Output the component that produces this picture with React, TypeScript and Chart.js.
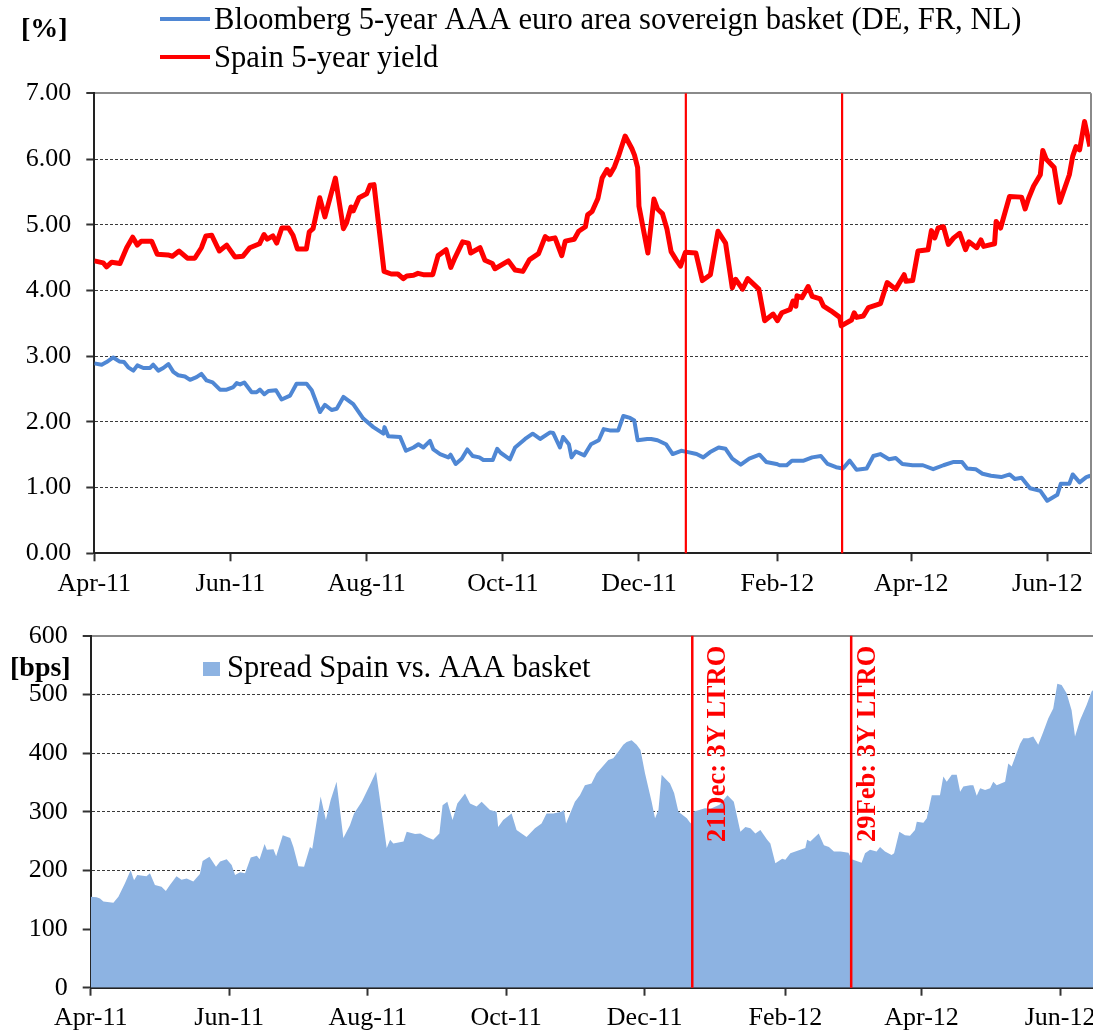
import { useEffect, useRef } from "react";
import { Chart, registerables } from "chart.js";
Chart.register(...registerables);

const FONT = '"Liberation Serif", "Times New Roman", serif';
const RED = "#FF0000";
const BLUE = "#4F87D4";
const AREA = "#8DB3E2";

// x positions are days since 1 Apr 2011
const monthTickDays = [0, 61, 122, 183, 244, 306, 366, 427];
const monthTickLabels = ["Apr-11", "Jun-11", "Aug-11", "Oct-11", "Dec-11", "Feb-12", "Apr-12", "Jun-12"];
const ltroDays = [265, 335];
const ltroLabels = ["21Dec: 3Y LTRO", "29Feb: 3Y LTRO"];
const seriesNames = [
  "Bloomberg 5-year AAA euro area sovereign basket (DE, FR, NL)",
  "Spain 5-year yield",
  "Spread Spain vs. AAA basket",
];

const spainDays = [0, 4, 5.5, 7.8, 11.5, 14.5, 17.2, 19.3, 21, 25.7, 28.2, 33, 35, 38, 41.7, 45, 48, 50, 52.6, 56, 59.3, 63, 66.5, 69.7, 74, 76, 77.5, 80, 81.7, 84, 87, 89, 91, 95, 96.3, 98, 101, 103.3, 108, 111.6, 113, 115, 116, 118.6, 122, 123.5, 125.3, 129.8, 133, 136, 138.4, 140, 143, 145, 147.4, 151.6, 154, 157.6, 159.7, 161.6, 165, 167.6, 168.6, 172.8, 175, 178.3, 179.5, 185.5, 188.5, 192, 195, 199, 202, 203.4, 206.4, 209.4, 211, 215, 217, 220, 221, 223, 225.6, 227.5, 229.7, 231, 233, 235, 237.8, 240.8, 242, 243.4, 244, 248, 250.7, 252.3, 254.5, 256.5, 258.4, 260.6, 262.6, 264.8, 269.5, 272.4, 276, 279.4, 282.8, 285.8, 287.3, 290.4, 292.7, 297.7, 300.3, 304.1, 306, 308, 311.7, 313, 314.3, 314.8, 317, 319.8, 321.6, 325.2, 326.7, 330, 334, 334.6, 339.2, 340.4, 341.5, 344.5, 346.8, 352.2, 355.2, 359, 362.8, 363.6, 366.6, 369, 373.5, 375, 376.5, 378, 380.4, 382.6, 385, 387.7, 390.3, 391.8, 395.3, 397.2, 398.4, 403.3, 404, 406, 410, 415.4, 417, 418.5, 420.8, 423.8, 424.9, 426.4, 430, 432.5, 436.8, 438.3, 439.8, 441.4, 443.6, 446];
const spainYield = [4.45, 4.42, 4.36, 4.43, 4.41, 4.65, 4.81, 4.69, 4.75, 4.75, 4.55, 4.54, 4.52, 4.6, 4.49, 4.49, 4.65, 4.83, 4.84, 4.6, 4.69, 4.51, 4.52, 4.65, 4.71, 4.85, 4.78, 4.83, 4.72, 4.95, 4.95, 4.84, 4.63, 4.63, 4.89, 4.94, 5.41, 5.12, 5.71, 4.94, 5.03, 5.27, 5.21, 5.41, 5.47, 5.6, 5.61, 4.29, 4.25, 4.25, 4.18, 4.22, 4.23, 4.26, 4.24, 4.24, 4.53, 4.62, 4.35, 4.5, 4.74, 4.72, 4.57, 4.65, 4.46, 4.41, 4.33, 4.45, 4.31, 4.29, 4.47, 4.56, 4.82, 4.78, 4.8, 4.53, 4.75, 4.78, 4.9, 4.97, 5.15, 5.2, 5.4, 5.71, 5.84, 5.76, 5.88, 6.06, 6.35, 6.16, 6.06, 5.87, 5.28, 4.57, 5.39, 5.24, 5.17, 4.94, 4.59, 4.47, 4.37, 4.58, 4.57, 4.15, 4.24, 4.9, 4.72, 4.04, 4.17, 4.02, 4.18, 4.02, 3.54, 3.64, 3.54, 3.66, 3.71, 3.84, 3.76, 3.92, 3.89, 4.06, 3.91, 3.87, 3.76, 3.69, 3.59, 3.46, 3.55, 3.66, 3.59, 3.61, 3.74, 3.8, 4.12, 4.02, 4.24, 4.14, 4.15, 4.6, 4.62, 4.91, 4.8, 4.95, 4.97, 4.7, 4.8, 4.87, 4.62, 4.74, 4.65, 4.77, 4.67, 4.71, 5.05, 4.95, 5.43, 5.42, 5.24, 5.4, 5.59, 5.76, 6.13, 6.0, 5.87, 5.34, 5.76, 6.04, 6.19, 6.14, 6.57, 6.19];

const aaaDays = [0, 3.3, 5.5, 8.5, 11.2, 13.3, 15.2, 17.5, 19.3, 22, 25, 26.4, 28.7, 30.9, 33.2, 35.4, 37.6, 40.6, 42.9, 45.8, 48, 50.3, 53, 56.3, 59.3, 62.3, 63.8, 65.3, 67.2, 70.5, 72.7, 74.2, 76.2, 78, 81.4, 83.9, 87.7, 90.6, 95.1, 97.4, 101.1, 103.3, 106.3, 108.6, 111.6, 116, 120.5, 125, 129.5, 130, 131.7, 137, 139.6, 143, 145.2, 147.4, 150.4, 151.9, 154.9, 158.6, 159.6, 161.9, 164.6, 167.1, 169.5, 172.5, 174.3, 178.5, 180.5, 182, 186.2, 188.5, 193, 196.4, 199.7, 204.2, 205.6, 208.6, 210, 212.6, 213.8, 215.7, 219.5, 222.5, 226, 228.2, 230.9, 234.7, 237, 240, 241.9, 243.4, 247.7, 249.5, 252.3, 256.1, 259.1, 262.9, 266, 269.8, 272.8, 275.9, 279.7, 282.8, 285.8, 289.6, 293.4, 298, 301, 305.6, 307, 310.2, 312.5, 317.8, 321.6, 325.5, 328.5, 332.3, 335.4, 338.4, 341.5, 346, 349, 352.1, 356, 359, 362, 366.6, 371.2, 375.8, 380.4, 385, 388.7, 391, 394.8, 397.9, 401.7, 406.3, 410.1, 412.4, 415.4, 419.2, 423.8, 426.9, 431.4, 433, 436.8, 438.3, 441.4, 444.4, 446.2];
const aaaYield = [2.89, 2.87, 2.91, 2.98, 2.92, 2.91, 2.83, 2.78, 2.86, 2.82, 2.82, 2.87, 2.78, 2.82, 2.88, 2.76, 2.71, 2.69, 2.64, 2.68, 2.73, 2.63, 2.6, 2.49, 2.49, 2.53, 2.59, 2.57, 2.6, 2.45, 2.45, 2.49, 2.42, 2.47, 2.48, 2.34, 2.4, 2.58, 2.58, 2.48, 2.15, 2.26, 2.18, 2.2, 2.38, 2.27, 2.05, 1.92, 1.82, 1.92, 1.78, 1.77, 1.56, 1.61, 1.66, 1.61, 1.71, 1.58, 1.51, 1.46, 1.5, 1.36, 1.44, 1.58, 1.48, 1.46, 1.42, 1.42, 1.59, 1.53, 1.43, 1.61, 1.74, 1.82, 1.74, 1.84, 1.83, 1.61, 1.77, 1.66, 1.46, 1.55, 1.49, 1.66, 1.72, 1.89, 1.87, 1.87, 2.09, 2.06, 2.02, 1.72, 1.74, 1.74, 1.72, 1.66, 1.51, 1.56, 1.54, 1.51, 1.46, 1.54, 1.61, 1.59, 1.44, 1.35, 1.44, 1.5, 1.39, 1.36, 1.34, 1.34, 1.41, 1.41, 1.46, 1.48, 1.36, 1.31, 1.29, 1.41, 1.27, 1.29, 1.48, 1.51, 1.43, 1.45, 1.36, 1.34, 1.34, 1.28, 1.34, 1.39, 1.39, 1.29, 1.28, 1.21, 1.18, 1.16, 1.2, 1.13, 1.15, 0.99, 0.95, 0.8, 0.89, 1.06, 1.06, 1.2, 1.08, 1.16, 1.18];

const spreadDays = [0, 2.6, 4.1, 5.6, 10, 12.2, 15.1, 17.6, 19.1, 20.5, 24.6, 26.1, 28.3, 31.2, 33.1, 34.9, 37.8, 40, 42.3, 45.2, 48.1, 49.3, 52.3, 55.2, 57, 59.9, 62.1, 63.6, 65.8, 68, 70.5, 73.2, 74.4, 76.6, 77.6, 80.5, 81.7, 84.6, 87.9, 89.3, 91.5, 94, 96.6, 97.6, 101.3, 103.6, 105.7, 108.3, 111.3, 114.2, 116, 119.4, 123.3, 125.7, 130.4, 131.9, 133.3, 137.8, 139.2, 142.9, 145.2, 148, 150.9, 153.6, 155, 157.1, 159.4, 161.5, 164.9, 167.1, 170, 172.2, 175.9, 178.8, 179.5, 181.7, 185.4, 187.6, 192, 195.7, 198.6, 200.8, 203.8, 207.4, 208.5, 209.4, 213.3, 215.5, 217.7, 220.6, 222.8, 225.5, 228, 230.2, 232.4, 234.6, 236.1, 238.3, 240.5, 242.2, 244.2, 247.1, 248.6, 250.1, 251.5, 253.7, 255.2, 257, 258.9, 262.6, 264.3, 265.5, 270.6, 273, 277, 280.5, 283.3, 286.2, 288.4, 290.6, 292.8, 295, 298, 299.4, 301.6, 304.6, 306, 308.2, 312.6, 314.8, 315.6, 317, 320.7, 323, 325.2, 327.4, 330.3, 333.8, 335.2, 339.6, 341.1, 343.3, 346.2, 347.7, 349.9, 352.8, 353.9, 356.2, 358.7, 360.9, 363.1, 363.9, 366.8, 368.3, 370.5, 374.1, 375.6, 377.1, 379.3, 381.5, 383, 384.4, 387.4, 388.8, 390.3, 391.8, 394, 396.2, 397.6, 399.1, 402.8, 404.2, 405.7, 409.4, 410.8, 413, 415.2, 417.4, 419.6, 421.8, 424, 425.8, 427.7, 429.9, 432.1, 433.6, 435.8, 438.7, 440.9, 441.5, 446];
const spreadBps = [155, 154, 152, 147, 145, 155, 178, 200, 183, 192, 190, 195, 175, 172, 165, 175, 190, 184, 186, 181, 194, 216, 223, 206, 215, 219, 209, 192, 197, 195, 222, 225, 219, 245, 235, 236, 224, 260, 255, 240, 207, 206, 240, 237, 326, 286, 320, 351, 255, 277, 297, 317, 348, 368, 238, 252, 246, 249, 266, 262, 263, 257, 252, 263, 311, 317, 286, 314, 331, 314, 309, 317, 303, 300, 274, 286, 297, 269, 257, 272, 280, 297, 297, 300, 303, 280, 317, 328, 345, 348, 365, 377, 388, 391, 402, 414, 419, 422, 414, 405, 365, 317, 289, 303, 363, 354, 348, 332, 300, 289, 280, 300, 306, 305, 312, 328, 317, 266, 274, 272, 263, 269, 252, 246, 212, 220, 218, 229, 235, 238, 252, 249, 263, 243, 240, 232, 232, 230, 219, 213, 229, 235, 232, 240, 232, 226, 229, 266, 260, 259, 269, 283, 281, 289, 328, 328, 360, 351, 363, 363, 334, 343, 345, 345, 327, 340, 337, 340, 351, 345, 351, 382, 377, 416, 425, 425, 428, 414, 436, 459, 476, 518, 516, 502, 473, 428, 456, 482, 505, 507, 505];

const toXY = (xs: number[], ys: number[]) => xs.map((x, i) => ({ x, y: ys[i] }));

const xScale = (max: number, height: number) => ({
  type: "linear",
  min: 0,
  max,
  afterBuildTicks: (s: any) => {
    s.ticks = monthTickDays.map((v) => ({ value: v }));
  },
  afterFit: (s: any) => {
    s.height = height;
  },
  ticks: {
    autoSkip: false,
    maxRotation: 0,
    padding: 7,
    color: "#000",
    font: { family: FONT, size: 26 },
    callback: (v: any) => {
      const i = monthTickDays.indexOf(Number(v));
      return i >= 0 ? monthTickLabels[i] : "";
    },
  },
  grid: { drawOnChartArea: false, tickLength: 8, tickColor: "#333", tickWidth: 2 },
  border: { color: "#222", width: 2 },
});

const yScale = (max: number, step: number, width: number, decimals: number) => ({
  min: 0,
  max,
  afterFit: (s: any) => {
    s.width = width;
  },
  ticks: {
    stepSize: step,
    padding: 15,
    color: "#000",
    font: { family: FONT, size: 26 },
    callback: (v: any) => Number(v).toFixed(decimals),
  },
  grid: {
    color: (c: any) => (c.tick && c.tick.value === max ? "#8a8a8a" : "#3a3a3a"),
    lineWidth: (c: any) => (c.tick && c.tick.value === max ? 2 : 1),
    tickLength: 8,
    tickColor: "#333",
    tickWidth: 2,
  },
  border: {
    color: "#222",
    width: 2,
    dash: (c: any) => (c.tick && (c.tick.value === max || c.tick.value === 0) ? [] : [3, 2]),
  },
});

const topDecor = {
  id: "topDecor",
  afterDatasetsDraw(chart: any) {
    const { ctx, chartArea: a, scales } = chart;
    ctx.save();
    ctx.strokeStyle = "#8a8a8a";
    ctx.lineWidth = 2;
    ctx.beginPath();
    ctx.moveTo(a.right, a.top);
    ctx.lineTo(a.right, a.bottom);
    ctx.stroke();
    ctx.strokeStyle = RED;
    ctx.lineWidth = 2.2;
    ltroDays.forEach((d) => {
      const px = scales.x.getPixelForValue(d);
      ctx.beginPath();
      ctx.moveTo(px, a.top);
      ctx.lineTo(px, a.bottom);
      ctx.stroke();
    });
    ctx.restore();
  },
  afterDraw(chart: any) {
    const { ctx } = chart;
    ctx.save();
    ctx.fillStyle = "#000";
    ctx.textAlign = "left";
    ctx.textBaseline = "alphabetic";
    ctx.font = `bold 28px ${FONT}`;
    ctx.fillText("[%]", 21, 37);
    chart.data.datasets.forEach((ds: any, i: number) => {
      const y = 19 + i * 38;
      ctx.strokeStyle = ds.borderColor;
      ctx.lineWidth = 4;
      ctx.beginPath();
      ctx.moveTo(160, y);
      ctx.lineTo(210, y);
      ctx.stroke();
      ctx.font = `30.6px ${FONT}`;
      ctx.fillStyle = "#000";
      ctx.fillText(ds.label, 214, y + 10);
    });
    ctx.restore();
  },
};

const bottomDecor = {
  id: "bottomDecor",
  afterDatasetsDraw(chart: any) {
    const { ctx, chartArea: a, scales } = chart;
    const labelOffsets = [33, 24];
    ctx.save();
    ctx.strokeStyle = RED;
    ctx.lineWidth = 2.5;
    ltroDays.forEach((d, i) => {
      const px = scales.x.getPixelForValue(d);
      ctx.beginPath();
      ctx.moveTo(px, a.top);
      ctx.lineTo(px, a.bottom);
      ctx.stroke();
      ctx.save();
      ctx.translate(px + labelOffsets[i], a.bottom - 145.7);
      ctx.rotate(-Math.PI / 2);
      ctx.fillStyle = RED;
      ctx.font = `bold 26.5px ${FONT}`;
      ctx.textAlign = "left";
      ctx.textBaseline = "alphabetic";
      ctx.fillText(ltroLabels[i], 0, 0);
      ctx.restore();
    });
    ctx.restore();
  },
  afterDraw(chart: any) {
    const { ctx } = chart;
    const ds = chart.data.datasets[0];
    ctx.save();
    ctx.textAlign = "left";
    ctx.textBaseline = "alphabetic";
    ctx.fillStyle = "#000";
    ctx.font = `bold 28px ${FONT}`;
    ctx.fillText("[bps]", 10, 76);
    ctx.fillStyle = ds.backgroundColor;
    ctx.fillRect(203, 62, 17, 14);
    ctx.fillStyle = "#000";
    ctx.font = `30.5px ${FONT}`;
    ctx.fillText(ds.label, 227, 77);
    ctx.restore();
  },
};

export default function App() {
  const topRef = useRef<HTMLCanvasElement>(null);
  const botRef = useRef<HTMLCanvasElement>(null);

  useEffect(() => {
    const top = new Chart(topRef.current as HTMLCanvasElement, {
      type: "line",
      data: {
        datasets: [
          {
            label: seriesNames[0],
            data: toXY(aaaDays, aaaYield),
            borderColor: BLUE,
            borderWidth: 4,
            pointRadius: 0,
            fill: false,
            borderJoinStyle: "round",
          },
          {
            label: seriesNames[1],
            data: toXY(spainDays, spainYield),
            borderColor: RED,
            borderWidth: 5,
            pointRadius: 0,
            fill: false,
            borderJoinStyle: "round",
          },
        ],
      } as any,
      options: {
        responsive: false,
        animation: false,
        devicePixelRatio: 1,
        layout: { padding: { top: 93.3, left: 0, right: 9, bottom: 0 } },
        plugins: { legend: { display: false }, tooltip: { enabled: false } },
        scales: {
          x: xScale(446.5, 46.7),
          y: yScale(7, 1, 94.3, 2),
        } as any,
      },
      plugins: [topDecor],
    });

    const bot = new Chart(botRef.current as HTMLCanvasElement, {
      type: "line",
      data: {
        datasets: [
          {
            label: seriesNames[2],
            data: toXY(spreadDays, spreadBps),
            borderWidth: 0,
            borderColor: AREA,
            backgroundColor: AREA,
            pointRadius: 0,
            fill: "origin",
          },
        ],
      } as any,
      options: {
        responsive: false,
        animation: false,
        devicePixelRatio: 1,
        layout: { padding: { top: 35.7, left: 0, right: 5.7, bottom: 0 } },
        plugins: { legend: { display: false }, tooltip: { enabled: false } },
        scales: {
          x: xScale(446.5, 42.3),
          y: yScale(600, 100, 90.7, 0),
        } as any,
      },
      plugins: [bottomDecor],
    });

    return () => {
      top.destroy();
      bot.destroy();
    };
  }, []);

  return (
    <div
      style={{
        position: "fixed",
        left: 0,
        top: 0,
        width: 1093,
        height: 1030,
        overflow: "hidden",
        background: "#fff",
      }}
    >
      <canvas ref={topRef} width={1100} height={600} style={{ position: "absolute", left: 0, top: 0 }} />
      <canvas ref={botRef} width={1110} height={430} style={{ position: "absolute", left: 0, top: 600 }} />
    </div>
  );
}
